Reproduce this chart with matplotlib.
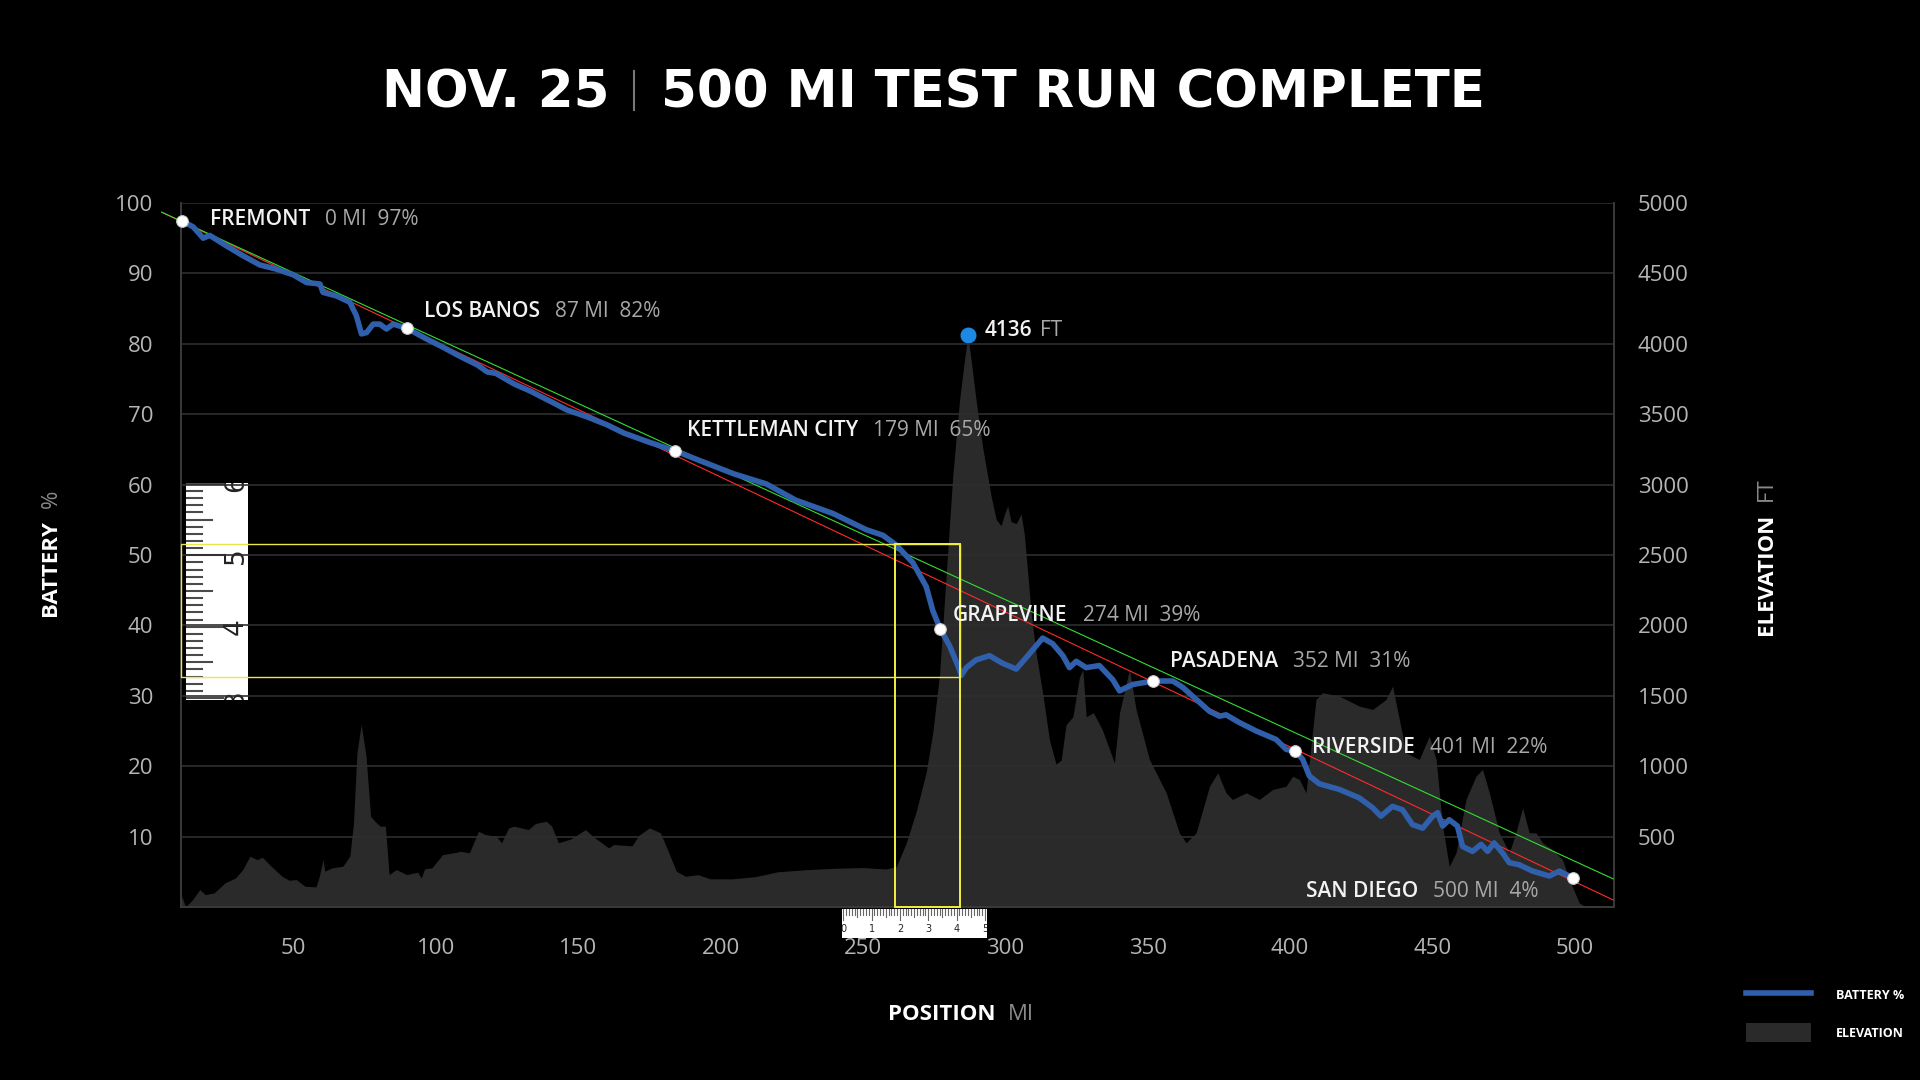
import matplotlib.pyplot as plt
import numpy as np
from matplotlib.patches import Rectangle, Patch
from matplotlib.lines import Line2D

# elevation profile: position along x axis, feet
elev_x = [10.4, 10.7, 12.0, 14.5, 17.0, 18.9, 22.0, 25.8, 29.6, 32.1, 34.6, 37.1, 39.0, 42.1, 45.9,
          48.4, 50.9, 54.0, 57.8, 59.0, 60.3, 60.9, 63.4, 67.2, 69.7, 71.0, 72.2, 73.7, 75.4, 77.0,
          78.5, 80.4, 82.2, 83.5, 86.0, 89.7, 93.5, 94.8, 96.0, 98.5, 102.3, 107.3, 108.6, 111.7,
          114.9, 117.3, 121.1, 123.0, 125.5, 127.4, 132.4, 134.9, 138.7, 140.6, 143.0, 147.4, 152.5,
          155.0, 160.6, 162.5, 168.8, 171.3, 175.0, 178.8, 181.3, 184.4, 187.6, 192.0, 196.3, 203.9,
          212, 220, 230, 240, 250, 258, 261.7, 265.2, 268.7, 272.2, 274.5, 276.9, 279.2, 281.5,
          283.9, 285.6, 286.8, 288.0, 289.7, 292.1, 295.0, 296.8, 298.5, 299.7, 300.8, 302.0, 303.8,
          305.5, 306.7, 307.9, 309.1, 310.8, 313.1, 315.5, 317.8, 319.6, 321.3, 323.7, 326.0, 327.2,
          328.4, 330.9, 334.0, 338.3, 340.1, 343.6, 345.9, 350.6, 356.5, 361.1, 363.5, 367.0, 371.7,
          374.6, 377.5, 379.8, 384.6, 389.2, 393.9, 398.6, 400.9, 403.3, 405.6, 409.1, 411.4, 417.3,
          424.3, 429.0, 433.7, 436.0, 438.4, 440.7, 445.4, 448.9, 451.3, 453.6, 455.9, 458.3, 461.8,
          465.3, 467.6, 470.0, 473.5, 477.0, 479.3, 481.7, 484.0, 486.4, 488.7, 492.2, 495.7, 498.1,
          501.6, 503.9, 514]
elev_ft = [0, 76, 0, 53, 124, 88, 100, 171, 207, 266, 361, 337, 353, 289, 218,
           190, 195, 147, 143, 218, 337, 254, 278, 289, 361, 598, 1095, 1297, 1071, 645,
           609, 574, 574, 230, 266, 230, 247, 207, 271, 278, 372, 389, 396, 385,
           538, 515, 503, 456, 562, 574, 550, 593, 609, 574, 456, 484, 550,
           503, 420, 444, 434, 510, 562, 527, 408, 254, 218, 230, 200, 200,
           215, 250, 265, 275, 280, 270, 287, 456, 680, 960, 1240, 1659, 2359, 3060,
           3600, 3880, 4060, 3880, 3600, 3254, 2918, 2750, 2709, 2792, 2849, 2737, 2723,
           2792, 2639, 2359, 2079, 1799, 1519, 1183, 1015, 1044, 1295, 1351, 1631, 1688,
           1351, 1380, 1261, 1024, 1380, 1688, 1403, 1048, 811, 527, 456, 527, 858,
           953, 811, 764, 811, 764, 835, 858, 929, 906, 811, 1474, 1522, 1498,
           1427, 1403, 1474, 1569, 1332, 1095, 1048, 1214, 1048, 574, 289, 385, 764,
           929, 977, 811, 527, 385, 527, 704, 527, 527, 456, 408, 337, 195,
           29, 0, 0]

# battery state of charge along the route
bat_x = [10.6, 14.7, 18.2, 20.5, 26.4, 32.2, 38.1, 44.0, 49.8, 54.5,
         59.2, 60.3, 65.0, 69.7, 72.0, 73.8, 75.6, 77.9, 80.2, 82.6,
         84.9, 89.8, 96.6, 102.5, 108, 114.5, 118, 121, 127.4, 133,
         140.3, 146, 153.2, 160, 166.1, 175, 184.0, 192.7, 204.8, 216.0,
         226.3, 239.4, 251.1, 257.0, 261.7, 267.5, 272.2, 274.5, 277.1, 280.4,
         283.3, 284.5, 286.3, 289.7, 294.4, 299.1, 303.8, 307.9, 313.1, 316.6,
         320.2, 322.5, 324.9, 328.4, 333.0, 337.7, 340.1, 344.7, 351.8, 358.8,
         362.3, 367.0, 371.7, 375.2, 377.5, 382.2, 388.1, 395.1, 398.6, 401.9,
         404.4, 406.8, 410.3, 417.3, 424.3, 429.0, 431.9, 436.0, 439.5, 443.0,
         446.6, 450.1, 451.8, 453.6, 455.9, 458.8, 460.6, 464.1, 467.1, 469.4,
         471.7, 474.6, 477.0, 480.5, 485.2, 491.1, 494.6, 499.5]
bat_pct = [97.5, 96.6, 95.0, 95.4, 93.9, 92.5, 91.2, 90.6, 89.8, 88.7,
           88.5, 87.3, 86.8, 85.9, 84.0, 81.4, 81.6, 82.8, 82.8, 82.1,
           82.8, 82.2, 80.7, 79.5, 78.3, 77.0, 76.0, 75.8, 74.3, 73.3,
           71.8, 70.6, 69.6, 68.5, 67.3, 66.0, 64.8, 63.4, 61.5, 60.1,
           57.8, 55.9, 53.6, 52.8, 51.4, 48.9, 45.5, 42.1, 39.5, 37.1,
           34.3, 32.9, 34.0, 35.1, 35.7, 34.6, 33.8, 35.7, 38.2, 37.4,
           35.7, 34.0, 34.9, 34.0, 34.3, 32.3, 30.7, 31.6, 32.1, 32.1,
           31.2, 29.5, 27.8, 27.1, 27.3, 26.2, 25.0, 23.8, 22.4, 22.1,
           21.0, 18.6, 17.5, 16.7, 15.5, 14.1, 12.9, 14.3, 13.8, 11.7,
           11.2, 12.9, 13.4, 11.5, 12.4, 11.5, 8.6, 7.9, 8.9, 7.9,
           9.1, 7.7, 6.3, 6.0, 5.1, 4.4, 5.1, 4.1]

# stops
stop_names = ['FREMONT', 'LOS BANOS', 'KETTLEMAN CITY', 'GRAPEVINE', 'PASADENA', 'RIVERSIDE', 'SAN DIEGO']
stop_miles = [0, 87, 179, 274, 352, 401, 500]
stop_soc = [97, 82, 65, 39, 31, 22, 4]
stop_x = [10.6, 89.8, 184.0, 277.1, 351.8, 401.9, 499.5]
stop_y = [97.5, 82.2, 64.8, 39.5, 32.1, 22.1, 4.1]
label_off = [(28, 1), (17, 17), (12, 20), (13, 13), (17, 20), (17, 4), (-35, -13)]

peak_x, peak_ft = 286.8, 4060
peak_label = '4136'

# overlay guides drawn on the screenshot
guide_x = [3.6, 513.5]
red_y = [98.7, 1.0]
green_y = [98.7, 4.0]
hbox = (10.4, 32.6, 283.9, 51.5)   # x0, y0, x1, y1
vbox = (261.1, 0.0, 283.9, 51.5)

BLUE = '#3060ac'
ELEV = '#2a2a2a'
GRID = '#2e2e2e'
TICK = '#b5b5b5'
FONT = 'Open Sans'

fig = plt.figure(figsize=(19.2, 10.8), dpi=100, facecolor='black')
ax = fig.add_axes([181 / 1920, 1 - 907 / 1080, (1614 - 181) / 1920, (907 - 203) / 1080])
ax2 = ax.twinx()
ax.set_zorder(ax2.get_zorder() + 1)
ax.patch.set_visible(False)
ax2.set_facecolor('black')

ax2.fill_between(elev_x, elev_ft, 0, color=ELEV, lw=0)
ax2.set_ylim(0, 5000)
ax2.set_yticks(range(500, 5001, 500))

ax.set_xlim(10.4, 513.8)
ax.set_ylim(0, 100)
ax.set_yticks(range(10, 101, 10))
ax.set_xticks(range(50, 501, 50))
ax.grid(axis='y', color=GRID, lw=1.2)
ax.grid(axis='x', visible=False)

for a in (ax, ax2):
    for s in a.spines.values():
        s.set_color('#3a3a3a')
        s.set_linewidth(1.2)
    a.spines['top'].set_visible(False)
    a.tick_params(length=0, colors=TICK, labelsize=16)
    for t in a.get_xticklabels() + a.get_yticklabels():
        t.set_fontfamily(FONT)
ax.tick_params(axis='y', pad=20)
ax.tick_params(axis='x', pad=22)
ax2.tick_params(axis='y', pad=17)

# guide lines
ax.plot(guide_x, red_y, color='#ff2a2a', lw=0.8, clip_on=False, zorder=3)
ax.plot(guide_x, green_y, color='#33dd33', lw=0.8, clip_on=False, zorder=3)

ax.plot(bat_x, bat_pct, color=BLUE, lw=4.0, solid_capstyle='round', solid_joinstyle='round', zorder=4)

ax.add_patch(Rectangle((hbox[0], hbox[1]), hbox[2] - hbox[0], hbox[3] - hbox[1], fill=False,
                       ec='#e8e84a', lw=1.0, zorder=5, clip_on=False))
ax.add_patch(Rectangle((vbox[0], vbox[1]), vbox[2] - vbox[0], vbox[3] - vbox[1], fill=False,
                       ec='#f0f040', lw=1.4, zorder=5, clip_on=False))

ax.scatter(stop_x, stop_y, s=70, color='white', edgecolor='#cccccc', lw=0.8, zorder=6, clip_on=False)
ax2.scatter([peak_x], [peak_ft], s=110, color='#1e88e5', zorder=6)

for name, mi, soc, x, y, off in zip(stop_names, stop_miles, stop_soc, stop_x, stop_y, label_off):
    det = f'{mi} MI  {soc}%'
    if off[0] >= 0:
        t = ax.annotate(name, (x, y), xytext=off, textcoords='offset pixels', va='center', ha='left',
                        color='#f2f2f2', fontsize=15, fontfamily=FONT, fontweight='semibold', zorder=7)
        ax.annotate(det, (1, 0.5), xycoords=t, xytext=(15, 0), textcoords='offset pixels',
                    va='center', ha='left', color='#a8a8a8', fontsize=15, fontfamily=FONT, zorder=7)
    else:
        d = ax.annotate(det, (x, y), xytext=off, textcoords='offset pixels', va='center', ha='right',
                        color='#a8a8a8', fontsize=15, fontfamily=FONT, zorder=7)
        ax.annotate(name, (0, 0.5), xycoords=d, xytext=(-15, 0), textcoords='offset pixels',
                    va='center', ha='right', color='#f2f2f2', fontsize=15, fontfamily=FONT,
                    fontweight='semibold', zorder=7)

pk = ax2.annotate(peak_label, (peak_x, peak_ft), xytext=(17, 5), textcoords='offset pixels', va='center',
                  color='#f2f2f2', fontsize=15, fontfamily=FONT, fontweight='semibold', zorder=7)
ax2.annotate('FT', (1, 0.5), xycoords=pk, xytext=(8, 0), textcoords='offset pixels', va='center',
             color='#a8a8a8', fontsize=15, fontfamily=FONT)

# axis titles
bt = fig.text(51 / 1920, 1 - 568 / 1080, 'BATTERY', rotation=90, ha='center', va='center',
              color='white', fontsize=16, fontweight='bold', fontfamily=FONT)
ax.annotate('%', (0.5, 1), xycoords=bt, xytext=(0, 12), textcoords='offset pixels', rotation=90,
            ha='center', va='bottom', color='#8a8a8a', fontsize=16, fontfamily=FONT, annotation_clip=False)
et = fig.text(1766 / 1920, 1 - 574 / 1080, 'ELEVATION', rotation=90, ha='center', va='center',
              color='white', fontsize=16, fontweight='bold', fontfamily=FONT)
ax.annotate('FT', (0.5, 1), xycoords=et, xytext=(0, 12), textcoords='offset pixels', rotation=90,
            ha='center', va='bottom', color='#8a8a8a', fontsize=16, fontfamily=FONT, annotation_clip=False)
pt = fig.text(942 / 1920, 1 - 1014 / 1080, 'POSITION', ha='center', va='center',
              color='white', fontsize=16, fontweight='bold', fontfamily=FONT)
ax.annotate('MI', (1, 0.5), xycoords=pt, xytext=(12, 0), textcoords='offset pixels',
            ha='left', va='center', color='#8a8a8a', fontsize=16, fontfamily=FONT, annotation_clip=False)

# title
ty = 1 - 94 / 1080
fig.text(609 / 1920, ty, 'NOV. 25', ha='right', va='center', color='white', fontsize=37,
         fontweight='bold', fontfamily='DejaVu Sans')
fig.add_artist(Line2D([634 / 1920, 634 / 1920], [1 - 110 / 1080, 1 - 71 / 1080], color='#777777', lw=1.5))
fig.text(661 / 1920, ty, '500 MI TEST RUN COMPLETE', ha='left', va='center', color='white', fontsize=37,
         fontweight='bold', fontfamily='DejaVu Sans')

# legend
handles = [Line2D([], [], color=BLUE, lw=4), Patch(facecolor=ELEV, edgecolor='none')]
fig.legend(handles, ['BATTERY %', 'ELEVATION'], loc='center left', bbox_to_anchor=(1740 / 1920, 1 - 1014 / 1080),
           frameon=False, prop={'family': FONT, 'weight': 'bold', 'size': 9}, labelcolor='white',
           handlelength=5.2, handleheight=1.9, handletextpad=2.0, labelspacing=1.5, borderpad=0)

# vertical ruler overlay
rv = fig.add_axes([185.7 / 1920, 1 - 700 / 1080, 62 / 1920, 217.3 / 1080])
rv.set_xlim(0, 62)
rv.set_ylim(2.972, 6.017)
rv.axis('off')
rv.add_patch(Rectangle((0, 2.972), 62, 3.045, color='white', zorder=0))
for i in range(30, 61):
    v = i / 10
    ln = 36 if i % 10 == 0 else (25 if i % 5 == 0 else 15)
    rv.plot([1, 1 + ln], [v, v], color='#4a4a4a', lw=1.5)
for n in range(3, 7):
    rv.text(50, n, str(n), rotation=90, ha='center', va='center', fontsize=19, color='#222222',
            fontfamily='DejaVu Sans', clip_on=True)

# horizontal ruler overlay
rh = fig.add_axes([842.3 / 1920, 1 - 938.3 / 1080, 145 / 1920, 29 / 1080])
rh.set_xlim(-0.035, 5.081)
rh.set_ylim(29, 0)
rh.axis('off')
rh.add_patch(Rectangle((-0.035, 0), 5.116, 29, color='white', zorder=0))
for i in range(0, 51):
    v = i / 10
    ln = 11 if i % 10 == 0 else (8 if i % 5 == 0 else 5.5)
    rh.plot([v, v], [0, ln], color='#666666', lw=0.8)
for n in range(0, 6):
    rh.text(n, 20, str(n), ha='center', va='center', fontsize=7, color='#222222', fontfamily='DejaVu Sans',
            clip_on=True)

fig.savefig('out.png', dpi=100, facecolor='black')
